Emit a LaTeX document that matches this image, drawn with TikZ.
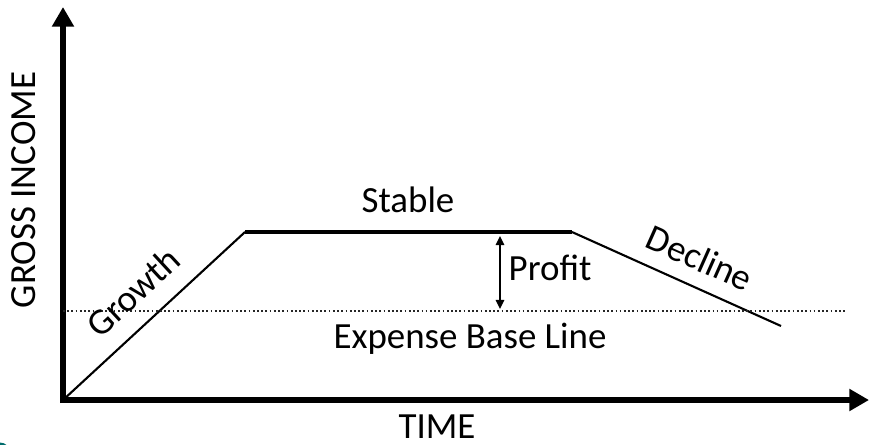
\documentclass[tikz,border=0pt]{standalone}
\usepackage{fontspec}
\setmainfont{Carlito}
\usetikzlibrary{positioning,arrows.meta,calc}
\tikzset{
  axisln/.style={-{Triangle[length=5.6pt,width=6pt]},line width=1.7pt},
  phase/.style={line width=0.6pt},
  plateau/.style={line width=1.1pt},
  baseln/.style={dash pattern=on 0.5pt off 0.7pt,line width=0.45pt,black!85},
  gap/.style={{Triangle[length=2.6pt,width=2.4pt]}-{Triangle[length=2.6pt,width=2.4pt]},line width=0.5pt},
  lbl/.style={font=\fontsize{10.5pt}{12pt}\selectfont,inner sep=0pt},
}
\begin{document}
\begin{tikzpicture}
  \useasboundingbox (0,0) rectangle (8.70,4.44);
  % corner mark
  \fill[teal!85!black] (0,-0.085) circle (0.1);
  % axes
  \coordinate (O) at (0.63,0.44);
  \coordinate (ytip) at (0.63,4.37);
  \coordinate (xtip) at (8.69,0.44);
  \draw[axisln] ($(O)+(0,-0.03)$) -- (ytip);
  \draw[axisln] ($(O)+(-0.03,0)$) -- (xtip);
  \node[lbl,rotate=90] (yl) at (0.24,2.54) {GROSS INCOME};
  \node[lbl] (xl) at (4.37,0.17) {TIME};
  % life cycle: growth, stable, decline
  \coordinate (A) at (2.45,2.12);
  \coordinate (B) at (5.72,2.12);
  \coordinate (C) at (7.81,1.18);
  \draw[phase] (O) -- (A);
  \draw[plateau] (A) -- (B);
  \draw[phase] (B) -- (C);
  % expense base line
  \coordinate (e0) at (0.63,1.33);
  \coordinate (e1) at (8.45,1.33);
  \draw[baseln] (e0) -- (e1);
  \coordinate (pt) at (5.00,2.08);
  \coordinate (pb) at (5.00,1.35);
  \draw[gap] (pt) -- (pb);
  \node[lbl,rotate=42.7] (grow) at (1.33,1.52) {Growth};
  \node[lbl] (stab) at (4.08,2.44) {Stable};
  \node[lbl,rotate=-24] (decl) at (7.00,1.86) {Decline};
  \node[lbl,anchor=west] (prof) at (5.08,1.76) {Profit};
  \node[lbl] (exp) at (4.70,1.05) {Expense Base Line};
\end{tikzpicture}
\end{document}
